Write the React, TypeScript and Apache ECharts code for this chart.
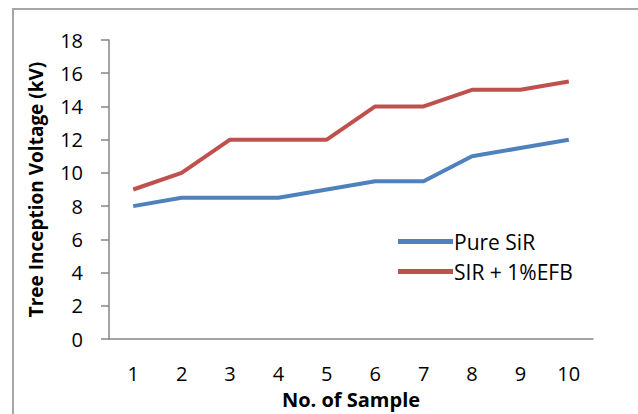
import React, { useEffect, useRef } from "react";
import * as echarts from "echarts";

const categories = ["1", "2", "3", "4", "5", "6", "7", "8", "9", "10"];
const pureSiR = [8, 8.5, 8.5, 8.5, 9, 9.5, 9.5, 11, 11.5, 12];
const sirEfb = [9, 10, 12, 12, 12, 14, 14, 15, 15, 15.5];
const seriesNames = ["Pure SiR", "SIR + 1%EFB"];

const FONT = "'Open Sans', 'Liberation Sans', sans-serif";

export default function App() {
  const ref = useRef<HTMLDivElement>(null);
  useEffect(() => {
    document.body.style.margin = "0";
    const chart = echarts.init(ref.current!, null, { renderer: "svg" });
    chart.setOption({
      animation: false,
      backgroundColor: "#ffffff",
      textStyle: { fontFamily: FONT },
      graphic: [
        {
          type: "rect",
          shape: { x: 13, y: 9, width: 700, height: 500 },
          style: { fill: "none", stroke: "#a6a6a6", lineWidth: 2 },
          silent: true,
        },
      ],
      grid: { left: 109, right: 45, top: 40, bottom: 74 },
      legend: {
        orient: "vertical",
        left: 393,
        top: 226,
        itemGap: 9,
        itemWidth: 55,
        itemHeight: 5,
        icon: "rect",
        textStyle: { fontSize: 21, color: "#000", fontFamily: FONT, padding: [0, 0, 0, -4] },
        data: seriesNames,
      },
      xAxis: {
        type: "category",
        data: categories,
        boundaryGap: true,
        name: "No. of Sample",
        nameLocation: "middle",
        nameGap: 50,
        nameTextStyle: { fontSize: 20, fontWeight: "bold", color: "#000", fontFamily: FONT },
        axisLine: { lineStyle: { color: "#868686", width: 1.5 } },
        axisTick: { show: false },
        axisLabel: { fontSize: 20, color: "#000", margin: 24, fontFamily: FONT },
      },
      yAxis: {
        type: "value",
        min: 0,
        max: 18,
        interval: 2,
        name: "Tree Inception Voltage (kV)",
        nameLocation: "middle",
        nameGap: 64,
        nameTextStyle: { fontSize: 19, fontWeight: "bold", color: "#000", fontFamily: FONT },
        axisLine: { show: true, lineStyle: { color: "#868686", width: 1.5 } },
        axisTick: { show: true, length: 8, lineStyle: { color: "#868686", width: 1.5 } },
        splitLine: { show: false },
        axisLabel: { fontSize: 20, color: "#000", margin: 26, fontFamily: FONT },
      },
      series: [
        {
          name: seriesNames[0],
          type: "line",
          data: pureSiR,
          showSymbol: false,
          symbol: "none",
          itemStyle: { color: "#4F81BD" },
          lineStyle: { color: "#4F81BD", width: 4 },
        },
        {
          name: seriesNames[1],
          type: "line",
          data: sirEfb,
          showSymbol: false,
          symbol: "none",
          itemStyle: { color: "#C0504D" },
          lineStyle: { color: "#C0504D", width: 4 },
        },
      ],
    });
    return () => chart.dispose();
  }, []);
  return <div ref={ref} style={{ width: 638, height: 414 }} />;
}
